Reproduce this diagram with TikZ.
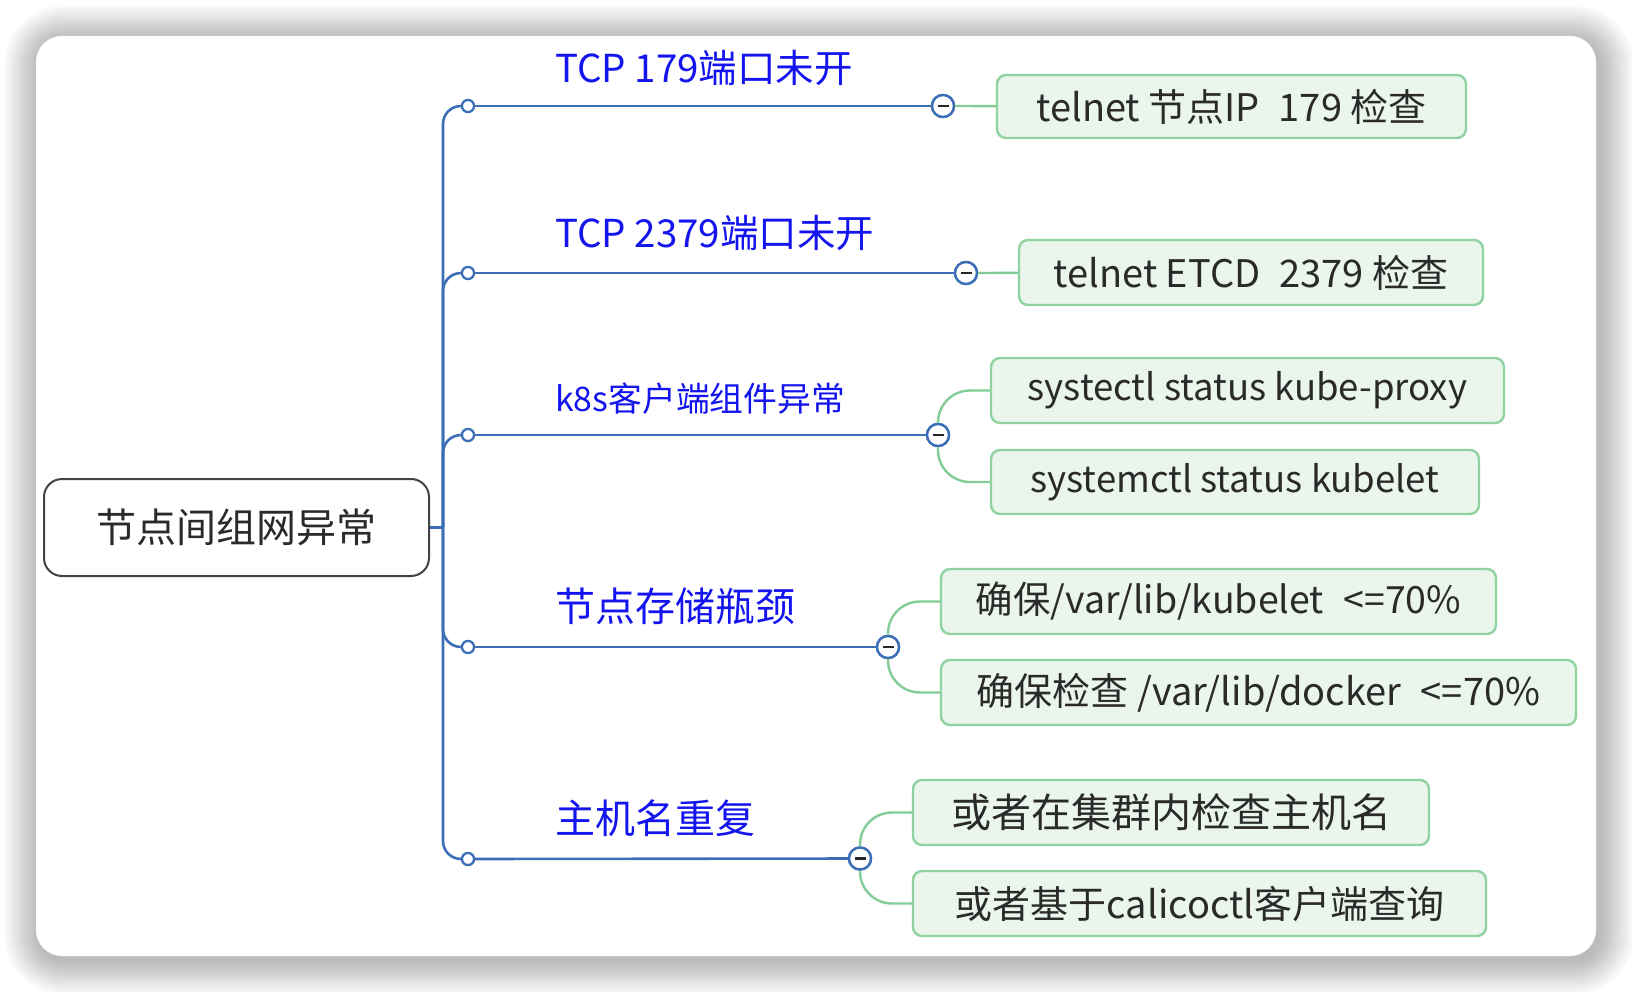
\documentclass[tikz,border=0pt]{standalone}
\usepackage{fontspec}
\setmainfont{Noto Sans CJK SC}
\definecolor{blueln}{HTML}{3D6FB6}
\definecolor{greenln}{HTML}{84CC97}
\definecolor{greenbd}{HTML}{8ED3A0}
\definecolor{greenfill}{HTML}{EAF5EC}
\definecolor{textdark}{HTML}{2A2A2A}
\definecolor{lblblue}{HTML}{1414EE}
\definecolor{rootbd}{HTML}{444444}
\begin{document}
\begin{tikzpicture}[x=1pt,y=-1pt,
  bline/.style={draw=blueln, line width=2.6pt},
  gline/.style={draw=greenln, line width=2.4pt},
  gbox/.style={draw=greenbd, fill=greenfill, line width=2.4pt, rounded corners=9pt,
    inner sep=0pt, text=textdark, font=\fontsize{38}{44}\selectfont},
  lbl/.style={anchor=west, inner sep=0pt, text=lblblue},
  scirc/.style={circle, draw=blueln, fill=white, line width=2.2pt, minimum size=12pt, inner sep=0pt},
  ecirc/.style={circle, draw=blueln, fill=white, line width=2.4pt, minimum size=22pt, inner sep=0pt},
  minus/.style={line width=2.6pt, draw=black!85},
]
\useasboundingbox (0,0) rectangle (1632,992);
\fill[white] (0,0) rectangle (1632,992);
% shadow
\foreach \i in {1,...,14}{
  \pgfmathsetmacro\rr{26+\i*2.5}
  \fill[black, opacity=0.018, rounded corners=\rr pt]
    (36-\i*2.5+3, 36-\i*2.5+4) rectangle (1596+\i*2.5+3, 956+\i*2.5+4);
}
\fill[white, rounded corners=26pt] (36,36) rectangle (1596,956);

% root
\node[draw=rootbd, line width=2pt, fill=white, rounded corners=18pt,
  minimum width=385pt, minimum height=97pt, inner sep=0pt, text=textdark,
  font=\fontsize{40}{48}\selectfont] (root) at (236.5,527.5) {节点间组网异常};
\coordinate (j) at (443,527.5);

% start circles
\node[scirc] (s1) at (468,106) {};
\node[scirc] (s2) at (468,273) {};
\node[scirc] (s3) at (468,435) {};
\node[scirc] (s4) at (468,647) {};
\node[scirc] (s5) at (468,859) {};
% end circles
\node[ecirc] (e1) at (943,106) {};
\node[ecirc] (e2) at (966,273) {};
\node[ecirc] (e3) at (938,435) {};
\node[ecirc] (e4) at (888,647) {};
\node[ecirc] (e5) at (860,858.5) {};

% trunk and branches
\draw[bline] (root.east) -- (j);
\foreach \s in {s1,s2,s3,s4,s5}{
  \draw[bline, rounded corners=18pt] (j) |- (\s);
}
\draw[bline] (s1) -- (e1);
\draw[bline] (s2) -- (e2);
\draw[bline] (s3) -- (e3);
\draw[bline] (s4) -- (e4);
\draw[bline] (s5) -- (e5);
% redraw circles over lines
\foreach \s in {s1,s2,s3,s4,s5}{ \node[scirc] at (\s) {}; }
\foreach \e in {e1,e2,e3,e4,e5}{
  \node[ecirc] at (\e) {};
  \draw[minus] ([xshift=-5.5pt]\e.center) -- ([xshift=5.5pt]\e.center);
}

% labels
\node[lbl, font=\fontsize{38.5}{44}\selectfont] (l1) at (555,68) {TCP 179端口未开};
\node[lbl, font=\fontsize{38.5}{44}\selectfont] (l2) at (555,233) {TCP 2379端口未开};
\node[lbl, font=\fontsize{33.8}{40}\selectfont] (l3) at (555,399) {k8s客户端组件异常};
\node[lbl, font=\fontsize{40}{48}\selectfont] (l4) at (555,606) {节点存储瓶颈};
\node[lbl, font=\fontsize{40}{48}\selectfont] (l5) at (555,818) {主机名重复};

% green boxes
\node[gbox, minimum width=469pt, minimum height=63pt] (b1) at (1231.5,106.5) {telnet 节点IP\hspace{0.5em}179 检查};
\node[gbox, minimum width=464pt, minimum height=65pt] (b2) at (1251,272.5) {telnet ETCD\hspace{0.5em}2379 检查};
\node[gbox, minimum width=513pt, minimum height=65pt, font=\fontsize{36.5}{44}\selectfont] (b3a) at (1247.5,390.5) {systectl status kube-proxy};
\node[gbox, minimum width=488pt, minimum height=64pt, font=\fontsize{36.5}{44}\selectfont] (b3b) at (1235,482) {systemctl status kubelet};
\node[gbox, minimum width=555pt, minimum height=65pt, font=\fontsize{37.5}{44}\selectfont] (b4a) at (1218.5,601.5) {确保/var/lib/kubelet\hspace{0.3em} <=70\%};
\node[gbox, minimum width=635pt, minimum height=65pt] (b4b) at (1258.5,692.5) {确保检查 /var/lib/docker\hspace{0.3em} <=70\%};
\node[gbox, minimum width=516pt, minimum height=65pt, font=\fontsize{40}{48}\selectfont] (b5a) at (1171,812.5) {或者在集群内检查主机名};
\node[gbox, minimum width=573pt, minimum height=65pt] (b5b) at (1199.5,903.5) {或者基于calicoctl客户端查询};

% green connectors
\draw[gline] (e1) -- (b1);
\draw[gline] (e2) -- (b2);
\draw[gline, rounded corners=32pt] (e3.north) |- (b3a.west);
\draw[gline, rounded corners=32pt] (e3.south) |- (b3b.west);
\draw[gline, rounded corners=32pt] (e4.north) |- (b4a.west);
\draw[gline, rounded corners=32pt] (e4.south) |- (b4b.west);
\draw[gline, rounded corners=32pt] (e5.north) |- (b5a.west);
\draw[gline, rounded corners=32pt] (e5.south) |- (b5b.west);
\end{tikzpicture}
\end{document}
